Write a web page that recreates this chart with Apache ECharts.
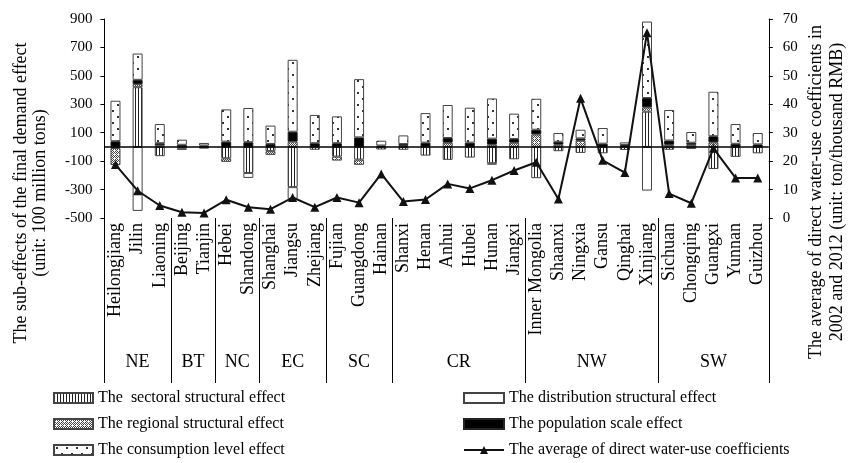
<!DOCTYPE html>
<html><head><meta charset="utf-8">
<script src="https://cdn.jsdelivr.net/npm/echarts@6/dist/echarts.min.js"></script>
<style>html,body{margin:0;padding:0;background:#fff}#c{width:854px;height:463px}</style>
</head><body><div id="c"></div>
<script>
const categories = ['Heilongjiang','Jilin','Liaoning','Beijing','Tianjin','Hebei','Shandong','Shanghai','Jiangsu','Zhejiang','Fujian','Guangdong','Hainan','Shanxi','Henan','Anhui','Hubei','Hunan','Jiangxi','Inner Mongolia','Shaanxi','Ningxia','Gansu','Qinghai','Xinjiang','Sichuan','Chongqing','Guangxi','Yunnan','Guizhou'];
const sectoral =     [-8, 420, -65, -12, -12, -80, -183, -30, -283, -20, -68, -89, -18, -20, -61, -91, -75, -115, -87, -220, -30, -42, -45, -21, 248, -20, -14, -155, -70, -45];
const distribution = [0, -450, 0, 0, 0, 0, -35, 0, -82, 0, 0, 0, 0, 0, 0, 0, 0, -10, 0, 0, 0, 0, 0, 0, -307, 0, 0, 0, 0, 0];
const regional =     [-120, 22, 12, -8, 0, -25, 0, -26, 37, 0, -28, -37, 0, 8, 0, 30, 0, 16, 30, 88, 16, 44, 0, 0, 30, 15, 15, 32, 0, 0];
const population =   [40, 30, 14, 15, 10, 37, 33, 21, 70, 26, 26, 67, 10, 12, 30, 33, 30, 42, 26, 33, 20, 16, 23, 14, 66, 30, 15, 43, 22, 18];
const consumption =  [285, 185, 135, 36, 18, 227, 241, 129, 506, 199, 189, 410, 34, 61, 208, 232, 246, 283, 178, 218, 62, 61, 110, 18, 538, 215, 75, 313, 139, 80];
const coefficients = [18.8, 9.6, 4.4, 2.0, 1.8, 6.4, 3.8, 3.1, 7.2, 3.8, 7.2, 5.4, 15.5, 5.8, 6.5, 12.0, 10.4, 13.3, 16.7, 19.6, 6.7, 42.1, 20.3, 16.0, 65.2, 8.6, 5.2, 24.5, 14.1, 14.1];
const groupNames = ['NE','BT','NC','EC','SC','CR','NW','SW'];
const groupSizes = [3, 2, 2, 3, 3, 6, 6, 5];
const leftTicks = [-500, 900, 200];
const rightTicks = [0, 70, 10];

const SERIF = '"Liberation Serif", "Times New Roman", serif';

function makePattern(w, h, draw) {
  const c = document.createElement('canvas');
  c.width = w; c.height = h;
  const ctx = c.getContext('2d');
  ctx.fillStyle = '#fff'; ctx.fillRect(0, 0, w, h);
  draw(ctx);
  return { image: c, repeat: 'repeat' };
}
const stripePat = makePattern(3, 4, ctx => { ctx.fillStyle = '#222'; ctx.fillRect(0, 0, 1, 4); });
const crossPat = makePattern(4, 4, ctx => {
  ctx.fillStyle = '#444';
  ctx.fillRect(0, 0, 1, 1); ctx.fillRect(2, 0, 1, 1);
  ctx.fillRect(1, 1, 1, 1); ctx.fillRect(3, 1, 1, 1);
  ctx.fillRect(0, 2, 1, 1);
  ctx.fillRect(3, 3, 1, 1); ctx.fillRect(1, 3, 1, 1);
});
const dotPat = makePattern(10, 12, ctx => {
  ctx.fillStyle = '#333';
  ctx.fillRect(2, 2, 2, 2); ctx.fillRect(7, 8, 2, 2);
});

const clean = arr => arr.map(v => (v === 0 ? '-' : v));

const boundaries = [];
let acc = 0;
groupSizes.forEach(s => { boundaries.push(acc); acc += s; });
const groupCenters = {};
acc = 0;
groupSizes.forEach((s, i) => { groupCenters[acc + s / 2] = groupNames[i]; acc += s; });

const barBase = {
  type: 'bar', stack: 'total', barWidth: 10, xAxisIndex: 0, yAxisIndex: 0,
  emphasis: { disabled: true }
};
const border = { borderColor: '#444', borderWidth: 1 };

const chart = echarts.init(document.getElementById('c'), null, { renderer: 'canvas' });
chart.setOption({
  animation: false,
  backgroundColor: '#fff',
  grid: { left: 104.4, right: 85.2, top: 19, bottom: 245 },
  legend: [
    {
      left: 53, top: 390, orient: 'vertical', itemWidth: 39, itemHeight: 10, itemGap: 10, padding: 0,
      icon: 'rect',
      textStyle: { fontFamily: SERIF, fontSize: 16, color: '#000' },
      data: ['The  sectoral structural effect', 'The regional structural effect', 'The consumption level effect'],
      selectedMode: false
    },
    {
      left: 463, top: 390, orient: 'vertical', itemWidth: 40, itemHeight: 10, itemGap: 10, padding: 0,
      textStyle: { fontFamily: SERIF, fontSize: 16, color: '#000' },
      data: [
        { name: 'The distribution structural effect', icon: 'rect' },
        { name: 'The population scale effect', icon: 'rect' },
        { name: 'The average of direct water-use coefficients' }
      ],
      selectedMode: false
    }
  ],
  xAxis: [
    {
      type: 'category', data: categories, position: 'bottom',
      axisLine: { show: false, onZero: false },
      axisTick: {
        show: true, length: 165, alignWithLabel: false,
        interval: (idx) => boundaries.indexOf(idx) >= 0,
        lineStyle: { color: '#000', width: 1 }
      },
      axisLabel: { interval: 0, rotate: 90, fontFamily: SERIF, fontSize: 18, color: '#000', margin: 5 },
      splitLine: { show: false }
    },
    {
      type: 'value', position: 'bottom', min: 0, max: categories.length, interval: 0.5,
      offset: 127,
      axisLine: { show: false }, axisTick: { show: false }, splitLine: { show: false },
      axisLabel: {
        fontFamily: SERIF, fontSize: 18, color: '#000', hideOverlap: false,
        showMinLabel: true, showMaxLabel: true,
        formatter: v => groupCenters[v] || ''
      }
    }
  ],
  yAxis: [
    {
      type: 'value', min: leftTicks[0], max: leftTicks[1], interval: leftTicks[2],
      axisLine: { show: true, lineStyle: { color: '#000' } },
      axisTick: { show: true, length: 4, lineStyle: { color: '#000' } },
      splitLine: { show: false },
      axisLabel: { fontFamily: SERIF, fontSize: 15, color: '#000', margin: 12 }
    },
    {
      type: 'value', min: rightTicks[0], max: rightTicks[1], interval: rightTicks[2],
      position: 'right',
      axisLine: { show: true, lineStyle: { color: '#000' } },
      axisTick: { show: true, length: 4, lineStyle: { color: '#000' } },
      splitLine: { show: false },
      axisLabel: { fontFamily: SERIF, fontSize: 15, color: '#000', margin: 14 }
    }
  ],
  graphic: [
    {
      type: 'text', x: 31, y: 193, rotation: Math.PI / 2,
      style: {
        text: 'The sub-effects of the final demand effect\n(unit: 100 million tons)',
        align: 'center', verticalAlign: 'middle', fill: '#000',
        font: '18px ' + SERIF, lineHeight: 19
      }
    },
    {
      type: 'text', x: 827, y: 192, rotation: Math.PI / 2,
      style: {
        text: 'The average of direct water-use coefficients in\n2002 and 2012 (unit: ton/thousand RMB)',
        align: 'center', verticalAlign: 'middle', fill: '#000',
        font: '18px ' + SERIF, lineHeight: 21
      }
    }
  ],
  series: [
    Object.assign({}, barBase, {
      name: 'The  sectoral structural effect', data: clean(sectoral),
      itemStyle: Object.assign({ color: stripePat }, border),
      markLine: {
        silent: true, symbol: 'none', label: { show: false },
        lineStyle: { color: '#000', width: 1.5, type: 'solid' },
        data: [{ yAxis: 0 }]
      }
    }),
    Object.assign({}, barBase, {
      name: 'The distribution structural effect', data: clean(distribution),
      itemStyle: Object.assign({ color: '#fff' }, border)
    }),
    Object.assign({}, barBase, {
      name: 'The regional structural effect', data: clean(regional),
      itemStyle: Object.assign({ color: crossPat }, border)
    }),
    Object.assign({}, barBase, {
      name: 'The population scale effect', data: clean(population),
      itemStyle: { color: '#000', borderColor: '#222', borderWidth: 1 }
    }),
    Object.assign({}, barBase, {
      name: 'The consumption level effect', data: clean(consumption),
      itemStyle: Object.assign({ color: dotPat }, border)
    }),
    {
      type: 'line', name: 'The average of direct water-use coefficients',
      data: coefficients, xAxisIndex: 0, yAxisIndex: 1, z: 10,
      symbol: 'triangle', symbolSize: 9,
      lineStyle: { color: '#111', width: 2 },
      itemStyle: { color: '#111' },
      emphasis: { disabled: true }
    }
  ]
});
</script>
</body></html>
